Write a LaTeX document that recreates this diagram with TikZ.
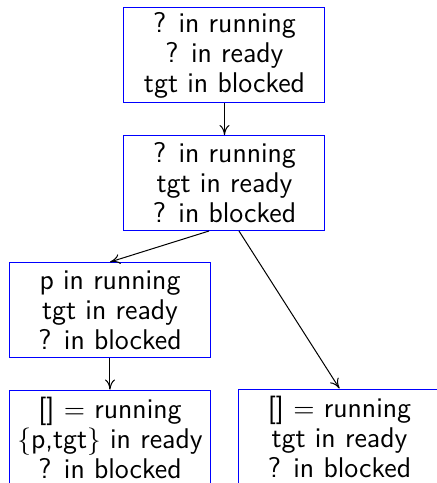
\documentclass[tikz,border=0pt]{standalone}
\usepackage{amsmath}
\usepackage{amssymb}
\usepackage{color,xcolor}
\usetikzlibrary{arrows.meta}

\begin{document}
\begin{tikzpicture}[x=0.4pt,y=-0.4pt,
    >={To[length=4pt,width=4pt]},
    state/.style={draw=blue,align=center,font=\sffamily\fontsize{11.4}{12}\selectfont,
      minimum width=80.4pt,minimum height=38pt,inner sep=0pt}]
        % 画布大小
        \clip (0,0) rectangle (437,483);
    
        % 定义各个状态框的中心
        \coordinate (P1) at (224.5,55);
        \coordinate (P2) at (224.5,183);
        \coordinate (P3) at (110,310);
        \coordinate (P4) at (110,437.5);
        \coordinate (P5) at (339.5,436.5);
    
        % 绘制状态框
        \node[state] (s1) at (P1) {? in running\\? in ready\\tgt in blocked};
        \node[state] (s2) at (P2) {? in running\\tgt in ready\\? in blocked};
        \node[state] (s3) at (P3) {p in running\\tgt in ready\\? in blocked};
        \node[state] (s4) at (P4) {[] $=$ running\\$\{$p,tgt$\}$ in ready\\? in blocked};
        \node[state] (s5) at (P5) {[] $=$ running\\tgt in ready\\? in blocked};
    
        % 状态之间的转移
        \draw[->] (s1.south) -- (s2.north);
        \draw[->] ([xshift=-6.2pt]s2.south) -- (s3.north);
        \draw[->] ([xshift=5.8pt]s2.south) -- (s5.north);
        \draw[->] (s3.south) -- (s4.north);
    \end{tikzpicture}
\end{document}
